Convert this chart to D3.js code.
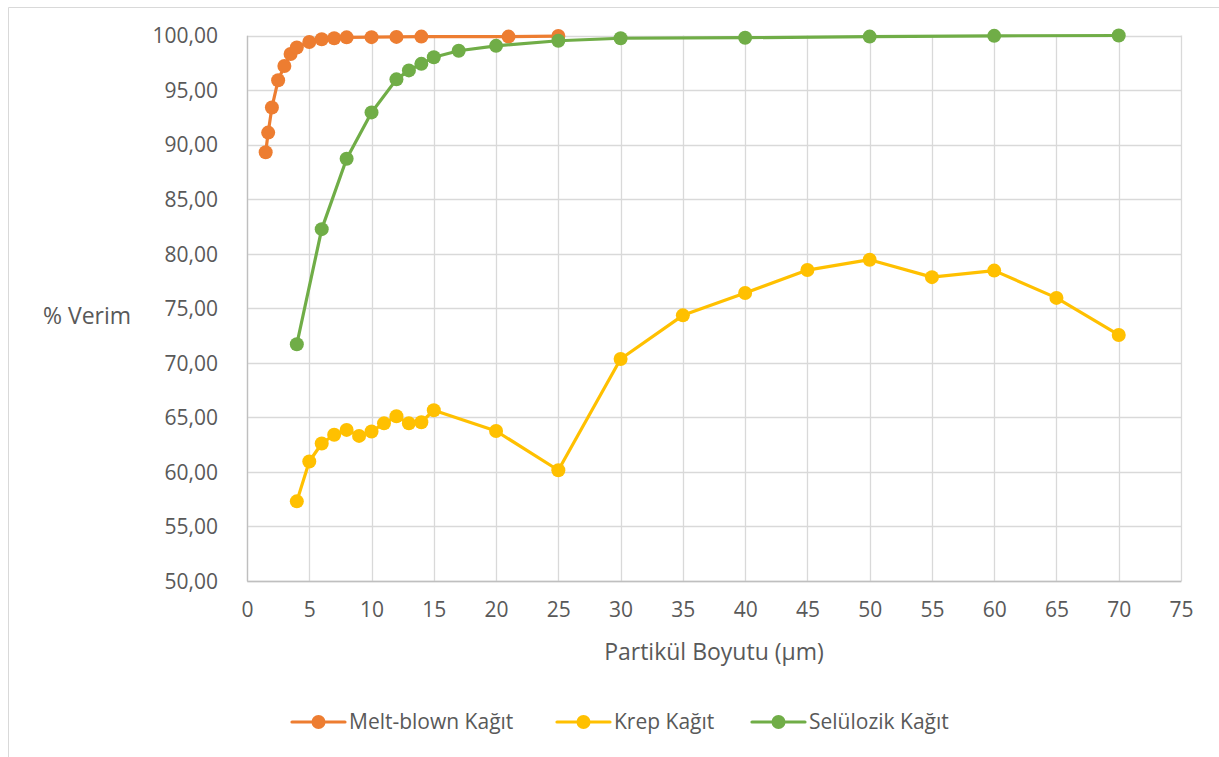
<!DOCTYPE html>
<html>
<head>
<meta charset="utf-8">
<script src="https://cdn.jsdelivr.net/npm/d3@7/dist/d3.min.js"></script>
<style>
  html, body { margin: 0; padding: 0; background: #fff; }
  svg { display: block; }
  text { font-family: "Open Sans", "Noto Sans", sans-serif; fill: #595959; }
</style>
</head>
<body>
<svg id="chart" width="1219" height="757"></svg>
<script>
// ---- Data ----
const meltX = [1.5, 1.7, 2, 2.5, 3, 3.5, 4, 5, 6, 7, 8, 10, 12, 14, 21, 25];
const meltY = [89.3, 91.1, 93.4, 95.9, 97.2, 98.3, 98.9, 99.4, 99.65, 99.75, 99.83, 99.85, 99.87, 99.9, 99.9, 99.95];

const krepX = [4, 5, 6, 7, 8, 9, 10, 11, 12, 13, 14, 15, 20, 25, 30, 35, 40, 45, 50, 55, 60, 65, 70];
const krepY = [57.3, 60.95, 62.6, 63.4, 63.85, 63.3, 63.7, 64.45, 65.1, 64.45, 64.55, 65.65, 63.75, 60.15, 70.35, 74.35, 76.4, 78.5, 79.45, 77.85, 78.45, 75.95, 72.55];

const seluX = [4, 6, 8, 10, 12, 13, 14, 15, 17, 20, 25, 30, 40, 50, 60, 70];
const seluY = [71.7, 82.25, 88.7, 92.95, 95.98, 96.8, 97.4, 98.0, 98.6, 99.05, 99.52, 99.75, 99.8, 99.9, 99.97, 100.0];

const xTicks = [0, 5, 10, 15, 20, 25, 30, 35, 40, 45, 50, 55, 60, 65, 70, 75];
const yTicks = [50, 55, 60, 65, 70, 75, 80, 85, 90, 95, 100];

const seriesNames = ["Melt-blown Kağıt", "Krep Kağıt", "Selülozik Kağıt"];
const seriesColors = ["#ED7D31", "#FFC000", "#70AD47"];

// ---- Layout ----
const svg = d3.select("#chart");
const pLeft = 247, pRight = 1181, pTop = 35.5, pBottom = 581;

const x = d3.scaleLinear().domain([0, 75]).range([pLeft, pRight]);
const y = d3.scaleLinear().domain([50, 100]).range([pBottom, pTop]);

// chart border
svg.append("path")
  .attr("d", "M8.5,757 L8.5,7.5 L1219,7.5")
  .attr("fill", "none").attr("stroke", "#D9D9D9").attr("stroke-width", 1);

// grid
const grid = svg.append("g");
grid.selectAll("line.h").data(yTicks).enter().append("line")
  .attr("x1", pLeft).attr("x2", pRight)
  .attr("y1", d => Math.round(y(d)) + 0.5).attr("y2", d => Math.round(y(d)) + 0.5)
  .attr("stroke", "#D9D9D9").attr("stroke-width", 1.3);
grid.selectAll("line.v").data(xTicks).enter().append("line")
  .attr("y1", pTop).attr("y2", pBottom)
  .attr("x1", d => Math.round(x(d)) + 0.5).attr("x2", d => Math.round(x(d)) + 0.5)
  .attr("stroke", "#D9D9D9").attr("stroke-width", 1.3);

// axes
const fmt = d => d3.format(".2f")(d).replace(".", ",");
const yAxis = d3.axisLeft(y).tickValues(yTicks).tickFormat(fmt).tickSize(0).tickPadding(29);
const yg = svg.append("g").attr("transform", `translate(${pLeft},0)`).call(yAxis);
yg.select(".domain").attr("stroke", "#BFBFBF").attr("stroke-width", 1.3);
yg.selectAll("text").style("font-size", "21px").attr("fill", "#595959").attr("dy", "0.35em");

const xAxis = d3.axisBottom(x).tickValues(xTicks).tickFormat(d3.format("d")).tickSize(0).tickPadding(21);
const xg = svg.append("g").attr("transform", `translate(0,${pBottom})`).call(xAxis);
xg.select(".domain").attr("stroke", "#BFBFBF").attr("stroke-width", 1.3);
xg.selectAll("text").style("font-size", "21px").attr("fill", "#595959");

// axis titles
svg.append("text").attr("x", 714).attr("y", 652).attr("dy", "0.35em").attr("text-anchor", "middle")
  .style("font-size", "23px").text("Partikül Boyutu (µm)");
svg.append("text").attr("x", 87).attr("y", 316).attr("dy", "0.35em").attr("text-anchor", "middle")
  .style("font-size", "23px").text("% Verim");

// series
const data = [
  meltX.map((d, i) => [d, meltY[i]]),
  krepX.map((d, i) => [d, krepY[i]]),
  seluX.map((d, i) => [d, seluY[i]])
];
const line = d3.line().x(d => x(d[0])).y(d => y(d[1]));

data.forEach((pts, i) => {
  const g = svg.append("g");
  g.append("path").attr("d", line(pts)).attr("fill", "none")
    .attr("stroke", seriesColors[i]).attr("stroke-width", 3.2)
    .attr("stroke-linejoin", "round").attr("stroke-linecap", "round");
  g.selectAll("circle").data(pts).enter().append("circle")
    .attr("cx", d => x(d[0])).attr("cy", d => y(d[1])).attr("r", 7)
    .attr("fill", seriesColors[i]);
});

// legend
const legendX = [292, 557, 752];
const ly = 722;
seriesNames.forEach((name, i) => {
  const g = svg.append("g");
  g.append("line").attr("x1", legendX[i]).attr("x2", legendX[i] + 53)
    .attr("y1", ly).attr("y2", ly).attr("stroke", seriesColors[i]).attr("stroke-width", 3.2)
    .attr("stroke-linecap", "round");
  g.append("circle").attr("cx", legendX[i] + 26.5).attr("cy", ly).attr("r", 7).attr("fill", seriesColors[i]);
  g.append("text").attr("x", legendX[i] + 57).attr("y", ly).attr("dy", "0.35em")
    .style("font-size", "21px").text(name);
});
</script>
</body>
</html>
